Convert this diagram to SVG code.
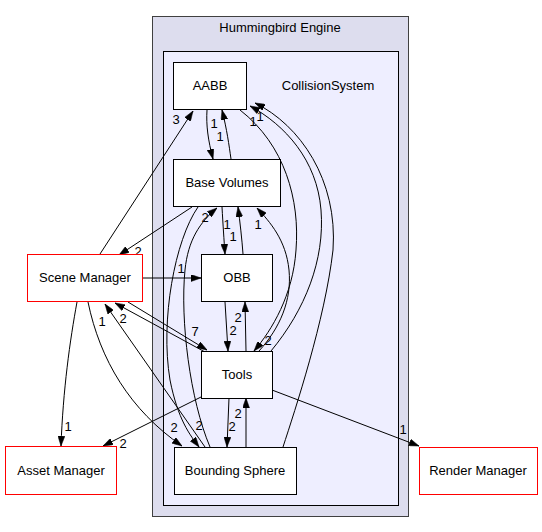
<svg xmlns="http://www.w3.org/2000/svg" width="542" height="532" viewBox="0 0 542 532">
<style>
text{font-family:"Liberation Sans",Arial,sans-serif;font-size:13px;fill:#000;text-anchor:middle}
.node rect{fill:#fff;stroke:#000;stroke-width:1}
.ext rect{fill:#fff;stroke:#ff0000;stroke-width:1}
.e{fill:none;stroke:#000;stroke-width:1;marker-end:url(#ah)}
</style>
<defs>
<marker id="ah" viewBox="0 0 10 7" refX="10" refY="3.5" markerWidth="10" markerHeight="7" markerUnits="userSpaceOnUse" orient="auto">
<path d="M0,0 L10,3.5 L0,7 z" fill="#000" stroke="#000" stroke-width="0.5"/>
</marker>
</defs>
<rect width="542" height="532" fill="#fff"/>
<g id="cluster-hummingbird">
<rect x="152.5" y="16.5" width="256" height="500" fill="#ddddee" stroke="#404040"/>
<text x="280" y="32">Hummingbird Engine</text>
</g>
<g id="cluster-collision">
<rect x="163.5" y="51.5" width="235" height="454" fill="#eeeeff" stroke="#000"/>
<text x="328" y="90">CollisionSystem</text>
</g>
<g id="connectors">
<path class="e" d="M207,110 C206,125 208,140 213,159"/>
<path class="e" d="M231,159 C229,145 227,130 222,110"/>
<path class="e" d="M100,254 L193,111"/>
<path class="e" d="M192,207 L119,255"/>
<path class="e" d="M142,278 L201,278"/>
<path class="e" d="M222,207 C223,225 224,240 225,254"/>
<path class="e" d="M243,254 C242,240 240,222 238,207"/>
<path class="e" d="M259,351 C280,328 292,300 289,270 C286,240 270,222 257,208"/>
<path class="e" d="M240,110 C285,145 300,200 296,250 C293,295 272,330 254,351"/>
<path class="e" d="M271,351 C305,310 325,260 321,210 C317,160 285,125 250,106"/>
<path class="e" d="M283,447 C295,410 325,320 333,250 C338,180 300,125 255,103"/>
<path class="e" d="M210,447 C190,400 180,320 185,270 C188,240 200,222 217,208"/>
<path class="e" d="M198,207 C175,240 160,320 170,380 C178,420 190,435 199,447"/>
<path class="e" d="M77,302 C70,340 63,390 61,446"/>
<path class="e" d="M88,302 C100,360 130,410 182,446"/>
<path class="e" d="M205,447 L105,304"/>
<path class="e" d="M205,352 L115,303"/>
<path class="e" d="M128,302 L207,350"/>
<path class="e" d="M225,302 L228,351"/>
<path class="e" d="M246,351 L245,302"/>
<path class="e" d="M229,398 L227,447"/>
<path class="e" d="M246,447 L246,398"/>
<path class="e" d="M201,397 L103,446"/>
<path class="e" d="M272,390 L419,446"/>
</g>
<g id="edge-labels">
<text x="214" y="128">1</text>
<text x="220" y="141">1</text>
<text x="176" y="124">3</text>
<text x="138" y="256">2</text>
<text x="181" y="273">1</text>
<text x="227" y="229">1</text>
<text x="233" y="241">1</text>
<text x="258" y="229">1</text>
<text x="253" y="126">1</text>
<text x="260" y="121">1</text>
<text x="268" y="345">2</text>
<text x="205" y="222">2</text>
<text x="199" y="430">2</text>
<text x="174" y="432">2</text>
<text x="102" y="326">1</text>
<text x="123" y="323">2</text>
<text x="195" y="336">7</text>
<text x="238" y="322">2</text>
<text x="233" y="335">2</text>
<text x="238" y="418">2</text>
<text x="232" y="431">2</text>
<text x="123" y="448">2</text>
<text x="68" y="431">1</text>
<text x="403" y="434">1</text>
</g>
<g id="node-aabb" class="node"><rect x="173.5" y="62.5" width="73" height="47"/><text x="210" y="90">AABB</text></g>
<g id="node-base-volumes" class="node"><rect x="173.5" y="159.5" width="107" height="47"/><text x="227" y="187">Base Volumes</text></g>
<g id="node-obb" class="node"><rect x="201.5" y="254.5" width="71" height="47"/><text x="237" y="282">OBB</text></g>
<g id="node-tools" class="node"><rect x="201.5" y="351.5" width="71" height="47"/><text x="237" y="379">Tools</text></g>
<g id="node-bounding-sphere" class="node"><rect x="174.5" y="447.5" width="122" height="47"/><text x="235" y="475">Bounding Sphere</text></g>
<g id="node-scene-manager" class="ext"><rect x="27.5" y="254.5" width="115" height="47"/><text x="85" y="282">Scene Manager</text></g>
<g id="node-asset-manager" class="ext"><rect x="5.5" y="446.5" width="111" height="48"/><text x="61" y="475">Asset Manager</text></g>
<g id="node-render-manager" class="ext"><rect x="419.5" y="447.5" width="118" height="47"/><text x="478" y="475">Render Manager</text></g>
</svg>
